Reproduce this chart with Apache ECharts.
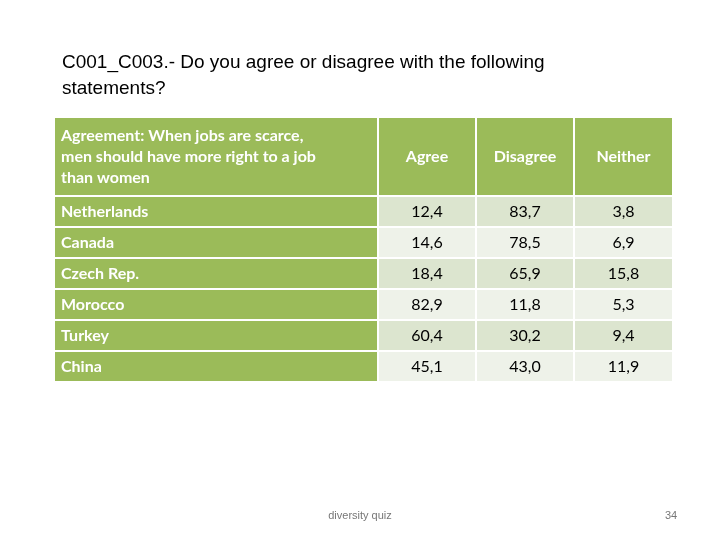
<!DOCTYPE html>
<html><head><meta charset="utf-8">
<script src="https://cdn.jsdelivr.net/npm/echarts@6/dist/echarts.min.js"></script>
<style>html,body{margin:0;padding:0;background:#fff}#chart{width:720px;height:540px}</style>
</head><body><div id="chart"></div>
<script>
var chart = echarts.init(document.getElementById('chart'));

// Datos de la tabla
var header = ['Agreement: When jobs are scarce,\nmen should have more right to a job\nthan women', 'Agree', 'Disagree', 'Neither'];
var rows = [
    ['Netherlands', '12,4', '83,7', '3,8'],
    ['Canada', '14,6', '78,5', '6,9'],
    ['Czech Rep.', '18,4', '65,9', '15,8'],
    ['Morocco', '82,9', '11,8', '5,3'],
    ['Turkey', '60,4', '30,2', '9,4'],
    ['China', '45,1', '43,0', '11,9']
];

// Geometría de la tabla
var colX = [55, 379, 477, 575], colW = [322, 96, 96, 97];
var headTop = 118, headH = 77, rowH = 29, gap = 2;
var green = '#9BBB59', light1 = '#DCE5CF', light2 = '#EEF2E9';
var font = 'Lato, "Open Sans", sans-serif';

var els = [];
header.forEach(function (h, c) {
    els.push({ type: 'rect', shape: { x: colX[c], y: headTop, width: colW[c], height: headH }, style: { fill: green } });
    els.push({ type: 'text', x: c === 0 ? colX[c] + 6 : colX[c] + colW[c] / 2, y: headTop + headH / 2,
        style: { text: h, fill: '#fff', font: 'bold 16px ' + font, align: c === 0 ? 'left' : 'center', verticalAlign: 'middle', lineHeight: 21 } });
});
rows.forEach(function (r, i) {
    var y = headTop + headH + gap + i * (rowH + gap);
    r.forEach(function (v, c) {
        var fill = c === 0 ? green : (i % 2 === 0 ? light1 : light2);
        els.push({ type: 'rect', shape: { x: colX[c], y: y, width: colW[c], height: rowH }, style: { fill: fill } });
        els.push({ type: 'text', x: c === 0 ? colX[c] + 6 : colX[c] + colW[c] / 2, y: y + rowH / 2,
            style: { text: v, fill: c === 0 ? '#fff' : '#000', font: (c === 0 ? 'bold ' : '') + '16px ' + font,
                align: c === 0 ? 'left' : 'center', verticalAlign: 'middle' } });
    });
});

els.push({ type: 'text', x: 62, y: 50, style: { text: 'C001_C003.- Do you agree or disagree with the following\nstatements?',
    fill: '#000', font: '19px "Liberation Sans", Arial, sans-serif', lineHeight: 26 } });
els.push({ type: 'text', x: 360, y: 516, style: { text: 'diversity quiz', fill: '#777', font: '11px "Liberation Sans", Arial', align: 'center', verticalAlign: 'middle' } });
els.push({ type: 'text', x: 671, y: 516, style: { text: '34', fill: '#777', font: '11px "Liberation Sans", Arial', align: 'center', verticalAlign: 'middle' } });

chart.setOption({ animation: false, graphic: els });
</script></body></html>
